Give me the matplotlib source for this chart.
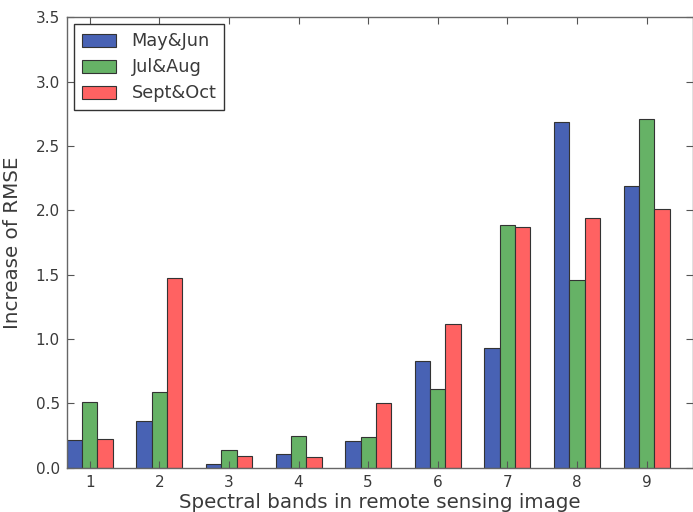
import numpy as np
import matplotlib
matplotlib.use("Agg")
from matplotlib import pyplot as plt

# bands on the x axis and RMSE increase per season
bands = [1, 2, 3, 4, 5, 6, 7, 8, 9]
may_jun = [0.215, 0.367, 0.031, 0.106, 0.21, 0.83, 0.929, 2.69, 2.188]
jul_aug = [0.512, 0.59, 0.137, 0.251, 0.243, 0.616, 1.888, 1.461, 2.713]
sep_oct = [0.22, 1.474, 0.09, 0.083, 0.504, 1.115, 1.868, 1.937, 2.007]
labels = ["May&Jun", "Jul&Aug", "Sept&Oct"]
colors = ["#4862B4", "#66B266", "#FF6262"]

TXT = "#3a3a3a"
width = 0.22

fig = plt.figure(figsize=(6.93, 5.12), dpi=100)
ax = fig.add_axes([0.0962, 0.0863, 0.9033, 0.8799])

x = np.array(bands, dtype=float)
for i, (vals, lab, col) in enumerate(zip([may_jun, jul_aug, sep_oct], labels, colors)):
    ax.bar(x + (i - 1) * width, vals, width, color=col, edgecolor="#333333",
           linewidth=0.8, label=lab)

ax.set_xlim(1 - 1.5 * width, 9 + 3 * width)
ax.set_ylim(0, 3.5)
ax.set_xticks(bands)
ax.set_yticks(np.arange(0, 3.51, 0.5))
ax.yaxis.set_major_formatter(matplotlib.ticker.FormatStrFormatter("%.1f"))

ax.tick_params(direction="in", top=True, right=True, length=5, width=0.8,
               labelsize=11, labelcolor=TXT, color="#555555", pad=5)
for s in ax.spines.values():
    s.set_color("#666666")
    s.set_linewidth(1.0)

ax.set_xlabel("Spectral bands in remote sensing image", fontsize=14.3, color=TXT, labelpad=2)
ax.set_ylabel("Increase of RMSE", fontsize=14.3, color=TXT, labelpad=10)

leg = ax.legend(loc="upper left", fontsize=12.8, fancybox=False, framealpha=1,
                borderpad=0.45, handlelength=1.95, handleheight=0.75,
                handletextpad=0.85, labelspacing=0.45, borderaxespad=0.4)
leg.get_frame().set_edgecolor("#333333")
leg.get_frame().set_linewidth(1.0)
for t in leg.get_texts():
    t.set_color(TXT)

fig.savefig("out.png", dpi=100)
